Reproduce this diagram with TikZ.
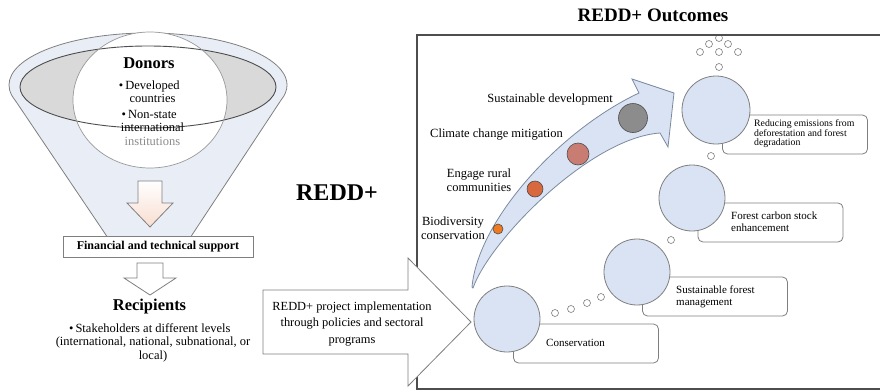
\documentclass[tikz,border=0pt]{standalone}
\usepackage{fontspec}
\setmainfont{Liberation Serif}
\definecolor{funnelblue}{HTML}{E9EEF6}
\definecolor{ringgrey}{HTML}{D9D9D9}
\definecolor{edgegrey}{HTML}{7F7F7F}
\definecolor{darkedge}{HTML}{4D4D4D}
\definecolor{paleblue}{HTML}{DAE3F3}
\definecolor{arrowedge}{HTML}{7A8AA0}
\definecolor{peach}{HTML}{F8DDD0}
\definecolor{dotorange}{HTML}{EE7A22}
\definecolor{dotrust}{HTML}{D8683E}
\definecolor{dotrose}{HTML}{C87C72}
\definecolor{dotgrey}{HTML}{8C8C8C}
\newcommand{\setfs}[2]{\fontsize{#1}{#2}\selectfont}
\begin{document}
\begin{tikzpicture}[x=1pt,y=-1pt,
  blockarrow/.style={draw=edgegrey, line width=0.8pt, line join=miter},
  bigdisc/.style={circle, draw=edgegrey, line width=0.8pt, fill=paleblue, minimum size=#1, inner sep=0pt},
  bubble/.style={circle, draw=edgegrey, line width=0.6pt, fill=white, minimum size=7pt, inner sep=0pt},
  tagbox/.style={rectangle, rounded corners=5pt, draw=edgegrey, line width=0.8pt, fill=white,
                 minimum width=145pt, minimum height=39pt, inner sep=0pt},
  tagtext/.style={anchor=west, align=left, inner sep=0pt, font=\setfs{11}{12}},
  bead/.style={circle, draw=darkedge, line width=0.6pt, inner sep=0pt, minimum size=#1},
  bodytext/.style={font=\setfs{12.5}{13.5}, inner sep=0pt},
  headline/.style={font=\bfseries\setfs{16.5}{16.5}, inner sep=0pt},
]
\useasboundingbox (0,0) rectangle (880,391);

% ---------- funnel of donors ----------
\fill[funnelblue] (108,238) -- (15.1,100.2)
  arc[start angle=163, end angle=377, x radius=139, y radius=52] -- (190,238) -- cycle;
\draw[edgegrey, line width=0.8pt] (108,238) -- (15.1,100.2)
  arc[start angle=163, end angle=377, x radius=139, y radius=52] -- (190,238);
\fill[ringgrey] (148,87) ellipse [x radius=128, y radius=41];
\fill[white] (150,100) ellipse [x radius=77, y radius=68];
\draw[darkedge, line width=0.9pt] (148,87) ellipse [x radius=128, y radius=41];
\draw[black!40, line width=0.7pt] (150,100) ellipse [x radius=77, y radius=68];

\node[headline] (donors) at (149,63) {Donors};
\node[bodytext, align=center] (donorlist) at (152.5,113)
  {\llap{•\,}Developed\\countries\\[2pt]\llap{•\,}Non-state\\international\\\textcolor{black!45}{institutions}};

% pale arrow down to the support box
\draw[blockarrow, top color=white, bottom color=peach]
  (138,181) -- (162,181) -- (162,203) -- (173,203) -- (150,227) -- (127,203) -- (138,203) -- cycle;

\node[draw=edgegrey, line width=0.8pt, fill=white, minimum width=190pt, minimum height=21pt,
      inner sep=0pt, font=\bfseries\setfs{12}{12}] (support) at (158,246.5) {Financial and technical support};

% white arrow down to the recipients
\draw[blockarrow, fill=white]
  (137,263) -- (163,263) -- (163,278) -- (176,278) -- (150,295) -- (124,278) -- (137,278) -- cycle;

\node[headline] (recip) at (149.5,307) {Recipients};
\node[bodytext, align=center] (recipdesc) at (153,342.5)
  {\llap{•\,}Stakeholders at different levels\\(international, national, subnational, or\\local)};

\node[font=\bfseries\setfs{24}{24}, inner sep=0pt] (redd) at (337,193) {REDD+};

% ---------- outcomes panel ----------
\node[font=\bfseries\setfs{19}{19}, inner sep=0pt] (outc) at (653,15) {REDD+ Outcomes};
\draw[darkedge, line width=1.8pt] (890,35) -- (417,35) -- (417,389) -- (890,389);

% implementation arrow
\draw[blockarrow, fill=white]
  (263,290) -- (408,290) -- (408,258) -- (471,322) -- (408,386) -- (408,354) -- (263,354) -- cycle;
\node[bodytext, align=center, font=\setfs{12.4}{16.5}] (impl) at (352,324)
  {REDD+ project implementation\\through policies and sectoral\\programs};

% curved arrow of co-benefits
\draw[draw=arrowedge, fill=paleblue, line width=0.8pt, line join=miter]
  (472,287) .. controls (478,220) and (560,130) .. (639,93)
  -- (632,79) -- (674,93) -- (668,147) -- (660,133)
  .. controls (590,138) and (490,240) .. (473,288) -- cycle;

\node[bead=10pt, fill=dotorange] (b1) at (498,229) {};
\node[bead=16pt, fill=dotrust] (b2) at (535,189) {};
\node[bead=22pt, fill=dotrose] (b3) at (578,154) {};
\node[bead=29pt, fill=dotgrey] (b4) at (633,118) {};

\node[bodytext, anchor=east] (sd) at (613,99) {Sustainable development};
\node[bodytext, anchor=east] (ccm) at (563,135) {Climate change mitigation};
\node[bodytext, align=center, font=\setfs{12.5}{14}] (erc) at (479,180) {Engage rural\\communities};
\node[bodytext, align=center, font=\setfs{12.5}{14}] (bio) at (453,228) {Biodiversity\\conservation};

% outcome boxes (behind their discs)
\node[tagbox] (tred) at (795,134.5) {};
\node[tagbox] (tfcs) at (770.5,222.5) {};
\node[tagbox] (tsfm) at (715,296.5) {};
\node[tagbox] (tcon) at (586,343.5) {};

\node[tagtext, font=\setfs{9.8}{9.5}] (xred) at (754,134) {Reducing emissions from\\deforestation and forest\\degradation};
\node[tagtext] (xfcs) at (731,222) {Forest carbon stock\\enhancement};
\node[tagtext] (xsfm) at (676,297) {Sustainable forest\\management};
\node[tagtext] (xcon) at (546,343) {Conservation};

\node[bigdisc=68pt] (cred) at (716,110) {};
\node[bigdisc=66pt] (cfcs) at (692,198) {};
\node[bigdisc=66pt] (csfm) at (637,272) {};
\node[bigdisc=66pt] (ccon) at (507,319) {};

% thought bubbles linking the outcomes
\node[bubble] (p1) at (555,313) {};
\node[bubble] (p2) at (571,309) {};
\node[bubble] (p3) at (587,303) {};
\node[bubble] (p4) at (601,297) {};
\node[bubble] (p5) at (671,240) {};
\node[bubble] (p6) at (711,156) {};
\node[bubble] (p7) at (719,67) {};
\node[bubble] (p8) at (719,52) {};
\node[bubble] (p9) at (700,52) {};
\node[bubble] (p10) at (709,44) {};
\node[bubble] (p11) at (728,44) {};
\node[bubble] (p12) at (738,52) {};
\node[bubble] (p13) at (719,38) {};
\draw[darkedge, line width=1.8pt] (700,35) -- (740,35);
\end{tikzpicture}
\end{document}
